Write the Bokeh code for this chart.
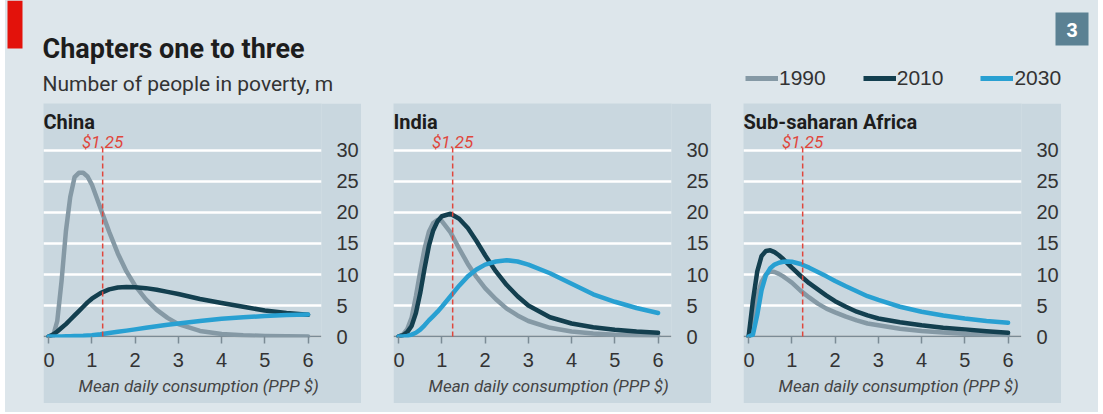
from bokeh.plotting import figure
from bokeh.models import Range1d, FixedTicker, Span, Legend, LegendItem, ColumnDataSource, Spacer, Title
from bokeh.layouts import row, column
from bokeh.core.properties import value
from bokeh.embed import file_html
from bokeh.resources import INLINE

# ---------------- data ----------------
X = [0, 0.1, 0.2, 0.3, 0.4, 0.5, 0.6, 0.7, 0.8, 0.9, 1.0, 1.2, 1.4, 1.6, 1.8,
     2.0, 2.25, 2.5, 2.75, 3.0, 3.5, 4.0, 4.5, 5.0, 5.5, 6.0]

china_1990 = [0, 0, 2.5, 9.0, 17.0, 22.5, 25.7, 26.4, 26.4, 25.8, 24.5, 20.7, 16.9, 13.4, 10.5,
              8.2, 6.0, 4.3, 3.0, 2.0, 0.9, 0.4, 0.2, 0.1, 0.05, 0]
china_2010 = [0, 0.3, 0.8, 1.4, 2.0, 2.7, 3.4, 4.1, 4.8, 5.5, 6.1, 7.0, 7.6, 7.9, 8.0,
              7.95, 7.8, 7.55, 7.2, 6.85, 6.05, 5.4, 4.8, 4.2, 3.8, 3.5]
china_2030 = [0, 0, 0, 0.02, 0.03, 0.05, 0.08, 0.1, 0.12, 0.16, 0.2, 0.35, 0.55, 0.75, 0.95,
              1.15, 1.4, 1.65, 1.9, 2.1, 2.5, 2.85, 3.1, 3.3, 3.45, 3.55]

india_1990 = [0, 0.3, 1.2, 3.0, 6.5, 10.5, 14.2, 16.9, 18.3, 18.8, 18.6, 16.8, 14.2, 11.7, 9.6,
              7.8, 6.0, 4.5, 3.4, 2.5, 1.4, 0.8, 0.5, 0.3, 0.2, 0.15]
india_2010 = [0, 0.2, 0.7, 1.7, 3.8, 7.0, 11.0, 14.6, 17.1, 18.6, 19.4, 19.8, 19.0, 17.5, 15.4,
              13.1, 10.5, 8.3, 6.5, 5.0, 3.1, 2.1, 1.5, 1.1, 0.8, 0.6]
india_2030 = [0, 0, 0.1, 0.3, 0.6, 1.1, 1.8, 2.6, 3.3, 4.0, 4.8, 6.5, 8.2, 9.7, 10.8,
              11.6, 12.1, 12.3, 12.1, 11.6, 10.2, 8.5, 6.8, 5.6, 4.6, 3.8]

africa_1990 = [0, 3.0, 6.5, 8.8, 10.0, 10.5, 10.4, 10.1, 9.7, 9.2, 8.7, 7.4, 6.3, 5.3, 4.5,
               3.9, 3.2, 2.6, 2.1, 1.8, 1.25, 0.9, 0.65, 0.45, 0.35, 0.25]
africa_2010 = [0, 5.8, 10.5, 13.0, 13.8, 13.9, 13.6, 13.1, 12.5, 11.8, 11.1, 9.8, 8.6, 7.6, 6.6,
               5.7, 4.8, 4.0, 3.4, 2.9, 2.3, 1.8, 1.4, 1.15, 0.85, 0.6]
africa_2030 = [0, 0.3, 3.5, 7.5, 9.9, 11.0, 11.6, 11.9, 12.05, 12.1, 12.05, 11.7, 11.1, 10.4, 9.7,
               8.95, 8.1, 7.3, 6.5, 5.9, 4.8, 4.0, 3.4, 2.9, 2.5, 2.2]

regions = ["China", "India", "Sub-saharan Africa"]
years = ["1990", "2010", "2030"]
series = {
    "China": [china_1990, china_2010, china_2030],
    "India": [india_1990, india_2010, india_2030],
    "Sub-saharan Africa": [africa_1990, africa_2010, africa_2030],
}
threshold = 1.25
threshold_label = "$1.25"
x_ticks = [0, 1, 2, 3, 4, 5, 6]
y_ticks = [0, 5, 10, 15, 20, 25, 30]
title = "Chapters one to three"
subtitle = "Number of people in poverty, m"
x_label = "Mean daily consumption (PPP $)"
chart_number = "3"

# ---------------- style ----------------
OUTER = "#dde6eb"
PANEL = "#c9d7df"
COLORS = ["#8599a5", "#133f4f", "#28a0d2"]
RED = "#e0463c"
BASE = "#7b8b95"
BOX3 = "#5b8193"
DARK = "#1d1d1d"
TXT = "Roboto"
SANS = "Liberation Sans"

W_IN = 1093
HEADER_H = 103
PANEL_W, PANEL_H = 318, 300
RIGHT_B = 30
XS = -0.1183
XE = XS + (PANEL_W - RIGHT_B) / 44.8
YS, YE = -0.161, 37.58

# ---------------- header ----------------
h = figure(width=W_IN, height=HEADER_H, x_range=Range1d(0, W_IN), y_range=Range1d(HEADER_H, 0),
           x_axis_location=None, y_axis_location=None, output_backend="svg", toolbar_location=None,
           min_border=0)
h.grid.visible = False
h.outline_line_color = None
h.background_fill_color = OUTER
h.border_fill_color = OUTER
h.quad(left=2, right=17, top=0, bottom=48, fill_color="#e3120b", line_color=None)
h.quad(left=1050, right=1083, top=12, bottom=45, fill_color=BOX3, line_color=None)
h.text(x=[1066.5], y=[29], text=[chart_number], text_color="white", text_font=value(SANS),
       text_font_style="bold", text_font_size="20px", text_align="center", text_baseline="middle")
h.text(x=[37], y=[48], text=[title], text_color=DARK, text_font=value(TXT),
       text_font_style="bold", text_font_size="27px", text_baseline="alphabetic")
h.text(x=[37], y=[83], text=[subtitle], text_color="#333333", text_font=value(TXT),
       text_font_size="21px", text_baseline="alphabetic")

items = []
for yr, c in zip(years, COLORS):
    r = h.line(x=[-200, -150], y=[-200, -200], line_color=c, line_width=5)
    items.append(LegendItem(label=yr, renderers=[r]))
leg = Legend(items=items, orientation="horizontal", location=(740, 13),
             glyph_width=33, glyph_height=20, label_standoff=1, spacing=37, padding=0, margin=0,
             border_line_color=None, background_fill_alpha=0,
             label_text_font=SANS, label_text_font_size="21px", label_text_color="#333333")
h.add_layout(leg)

# ---------------- panels ----------------
def make_panel(name):
    p = figure(width=PANEL_W, height=PANEL_H, x_range=Range1d(XS, XE), y_range=Range1d(YS, YE),
               y_axis_location="right", output_backend="svg", toolbar_location=None,
               min_border_left=0, min_border_top=0, min_border_right=RIGHT_B, min_border_bottom=66)
    p.title.visible = False
    p.background_fill_color = PANEL
    p.border_fill_color = PANEL
    p.outline_line_color = None
    p.xgrid.visible = False
    p.ygrid.ticker = FixedTicker(ticks=y_ticks)
    p.ygrid.grid_line_color = "white"
    p.ygrid.grid_line_width = 2.5

    p.xaxis.ticker = FixedTicker(ticks=x_ticks)
    p.xaxis.axis_line_color = None
    p.xaxis.major_tick_in = 1
    p.xaxis.major_tick_out = 6
    p.xaxis.major_tick_line_color = BASE
    p.xaxis.major_tick_line_width = 1.5
    p.xaxis.minor_tick_line_color = None
    p.xaxis.major_label_standoff = 9
    p.xaxis.major_label_text_font = SANS
    p.xaxis.major_label_text_font_size = "20px"
    p.xaxis.major_label_text_color = "#333333"

    p.add_layout(Title(text=x_label, align="left", offset=35, standoff=9,
                       text_font=TXT, text_font_style="italic", text_font_size="17px",
                       text_color="#444444"), "below")

    p.yaxis.ticker = FixedTicker(ticks=y_ticks)
    p.yaxis.axis_line_color = None
    p.yaxis.major_tick_line_color = None
    p.yaxis.minor_tick_line_color = None
    p.yaxis.major_label_standoff = 9
    p.yaxis.major_label_text_font = SANS
    p.yaxis.major_label_text_font_size = "20px"
    p.yaxis.major_label_text_color = "#333333"

    p.add_layout(Span(location=0, dimension="width", line_color=BASE, line_width=2, level="underlay"))

    for ys, c, yr in zip(series[name], COLORS, years):
        src = ColumnDataSource(dict(x=X, y=ys))
        p.line("x", "y", source=src, line_color=c, line_width=4.5, line_cap="round", line_join="round")

    p.segment(x0=[threshold], y0=[0], x1=[threshold], y1=[30.8], line_color=RED, line_width=1.5,
              line_dash="5 3")
    p.text(x=[threshold], y=[31.3], text=[threshold_label], text_color=RED, text_font=value(TXT),
           text_font_style="italic", text_font_size="17px", text_align="center", text_baseline="alphabetic")
    p.text(x=[XS], y=[34.52], text=[name], text_color=DARK, text_font=value(TXT),
           text_font_style="bold", text_font_size="20px", text_baseline="alphabetic")
    return p

panels = [make_panel(n) for n in regions]

def sp(w, hgt, color=OUTER):
    return Spacer(width=w, height=hgt, styles={"background-color": color})

prow = row(sp(38, PANEL_H), panels[0], sp(32, PANEL_H), panels[1], sp(32, PANEL_H), panels[2],
           sp(37, PANEL_H), styles={"background-color": OUTER})
inner = column(h, prow, sp(W_IN, 9), styles={"background-color": OUTER})
layout = row(sp(5, 412, "white"), inner, sp(5, 412, "white"), styles={"background-color": "white"})

open("out.html", "w").write(file_html(layout, INLINE))
